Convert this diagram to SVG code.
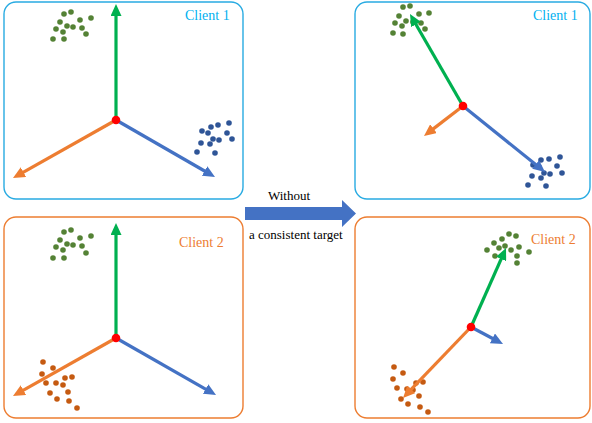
<svg xmlns="http://www.w3.org/2000/svg" width="592" height="423" viewBox="0 0 592 423">
<style>
.box1{fill:#fff;stroke:#29abe2;stroke-width:1.4}
.box2{fill:#fff;stroke:#ed7d31;stroke-width:1.4}
.c1{fill:#00b0f0}
.c2{fill:#ed7d31}
.g circle{fill:#548235}
.b circle{fill:#2f5597}
.o circle{fill:#c55a11}
.ag{stroke:#00b050;stroke-width:3.2;fill:none;marker-end:url(#mg)}
.ao{stroke:#ed7d31;stroke-width:3.2;fill:none;marker-end:url(#mo)}
.ab{stroke:#4472c4;stroke-width:3.2;fill:none;marker-end:url(#mb)}
.ctr{fill:#ff0000}
</style>
<defs>
<marker id="mg" markerUnits="userSpaceOnUse" markerWidth="12" markerHeight="11" refX="4" refY="5.5" orient="auto"><path d="M0,0 L12,5.5 L0,11 z" fill="#00b050"/></marker>
<marker id="mo" markerUnits="userSpaceOnUse" markerWidth="12" markerHeight="11" refX="4" refY="5.5" orient="auto"><path d="M0,0 L12,5.5 L0,11 z" fill="#ed7d31"/></marker>
<marker id="mb" markerUnits="userSpaceOnUse" markerWidth="12" markerHeight="11" refX="4" refY="5.5" orient="auto"><path d="M0,0 L12,5.5 L0,11 z" fill="#4472c4"/></marker>
</defs>

<g id="panel-client1-before">
<rect class="box1" x="4" y="2" width="239" height="197" rx="12"/>
<text class="c1" x="185" y="20" font-family="Liberation Serif, DejaVu Serif, serif" font-size="14">Client 1</text>
<g class="g">
<circle cx="64" cy="14" r="2.8"/><circle cx="71" cy="12" r="2.8"/><circle cx="60" cy="22" r="2.8"/><circle cx="80" cy="20" r="2.8"/><circle cx="91" cy="18" r="2.8"/><circle cx="56" cy="29" r="2.8"/><circle cx="67" cy="26" r="2.8"/><circle cx="73" cy="27" r="2.8"/><circle cx="82" cy="28" r="2.8"/><circle cx="63" cy="32" r="2.8"/><circle cx="86" cy="34" r="2.8"/><circle cx="53" cy="39" r="2.8"/><circle cx="64" cy="39" r="2.8"/>
</g>
<g class="b">
<circle cx="211" cy="127" r="2.8"/><circle cx="218" cy="125" r="2.8"/><circle cx="229" cy="123" r="2.8"/><circle cx="202" cy="131" r="2.8"/><circle cx="208" cy="133" r="2.8"/><circle cx="227" cy="133" r="2.8"/><circle cx="213" cy="139" r="2.8"/><circle cx="219" cy="140" r="2.8"/><circle cx="232" cy="139" r="2.8"/><circle cx="201" cy="143" r="2.8"/><circle cx="210" cy="144" r="2.8"/><circle cx="197" cy="152" r="2.8"/><circle cx="215" cy="153" r="2.8"/>
</g>
</g>

<g id="panel-client1-after">
<rect class="box1" x="355" y="2" width="235" height="197" rx="12"/>
<text class="c1" x="533" y="20" font-family="Liberation Serif, DejaVu Serif, serif" font-size="14">Client 1</text>
<g class="g">
<circle cx="403" cy="7" r="2.8"/><circle cx="410" cy="6" r="2.8"/><circle cx="399" cy="16" r="2.8"/><circle cx="419" cy="14" r="2.8"/><circle cx="429" cy="13" r="2.8"/><circle cx="395" cy="23" r="2.8"/><circle cx="406" cy="21" r="2.8"/><circle cx="413" cy="22" r="2.8"/><circle cx="421" cy="23" r="2.8"/><circle cx="402" cy="26" r="2.8"/><circle cx="425" cy="29" r="2.8"/><circle cx="393" cy="33" r="2.8"/><circle cx="403" cy="34" r="2.8"/>
</g>
<g class="b">
<circle cx="541" cy="160" r="2.8"/><circle cx="549" cy="159" r="2.8"/><circle cx="560" cy="157" r="2.8"/><circle cx="533" cy="165" r="2.8"/><circle cx="539" cy="167" r="2.8"/><circle cx="557" cy="166" r="2.8"/><circle cx="544" cy="173" r="2.8"/><circle cx="550" cy="174" r="2.8"/><circle cx="562" cy="173" r="2.8"/><circle cx="532" cy="176" r="2.8"/><circle cx="541" cy="178" r="2.8"/><circle cx="528" cy="185" r="2.8"/><circle cx="546" cy="186" r="2.8"/>
</g>
</g>

<g id="panel-client2-before">
<rect class="box2" x="4" y="217" width="239" height="201" rx="12"/>
<text class="c2" x="179" y="247" font-family="Liberation Serif, DejaVu Serif, serif" font-size="14">Client 2</text>
<g class="g">
<circle cx="64" cy="232" r="2.8"/><circle cx="71" cy="230" r="2.8"/><circle cx="60" cy="240" r="2.8"/><circle cx="80" cy="238" r="2.8"/><circle cx="91" cy="236" r="2.8"/><circle cx="56" cy="247" r="2.8"/><circle cx="67" cy="244" r="2.8"/><circle cx="73" cy="245" r="2.8"/><circle cx="82" cy="246" r="2.8"/><circle cx="63" cy="250" r="2.8"/><circle cx="86" cy="253" r="2.8"/><circle cx="53" cy="258" r="2.8"/><circle cx="64" cy="258" r="2.8"/>
</g>
<g class="o">
<circle cx="43" cy="362" r="2.8"/><circle cx="53" cy="368" r="2.8"/><circle cx="42" cy="374" r="2.8"/><circle cx="65" cy="378" r="2.8"/><circle cx="72" cy="377" r="2.8"/><circle cx="46" cy="383" r="2.8"/><circle cx="56" cy="383" r="2.8"/><circle cx="63" cy="385" r="2.8"/><circle cx="68" cy="392" r="2.8"/><circle cx="50" cy="393" r="2.8"/><circle cx="57" cy="399" r="2.8"/><circle cx="69" cy="401" r="2.8"/><circle cx="77" cy="408" r="2.8"/>
</g>
</g>

<g id="panel-client2-after">
<rect class="box2" x="355" y="217" width="235" height="201" rx="12"/>
<text class="c2" x="531" y="244" font-family="Liberation Serif, DejaVu Serif, serif" font-size="14">Client 2</text>
<g class="g">
<circle cx="509" cy="234" r="2.8"/><circle cx="516" cy="236" r="2.8"/><circle cx="494" cy="243" r="2.8"/><circle cx="502" cy="239" r="2.8"/><circle cx="505" cy="246" r="2.8"/><circle cx="499" cy="248" r="2.8"/><circle cx="511" cy="250" r="2.8"/><circle cx="519" cy="247" r="2.8"/><circle cx="487" cy="250" r="2.8"/><circle cx="529" cy="252" r="2.8"/><circle cx="495" cy="256" r="2.8"/><circle cx="517" cy="256" r="2.8"/><circle cx="517" cy="263" r="2.8"/>
</g>
<g class="o">
<circle cx="394" cy="367" r="2.8"/><circle cx="403" cy="373" r="2.8"/><circle cx="393" cy="379" r="2.8"/><circle cx="416" cy="383" r="2.8"/><circle cx="423" cy="382" r="2.8"/><circle cx="397" cy="388" r="2.8"/><circle cx="407" cy="389" r="2.8"/><circle cx="413" cy="390" r="2.8"/><circle cx="419" cy="396" r="2.8"/><circle cx="401" cy="399" r="2.8"/><circle cx="408" cy="404" r="2.8"/><circle cx="420" cy="407" r="2.8"/><circle cx="428" cy="412" r="2.8"/>
</g>
</g>

<g id="connectors">
<line class="ag" x1="116" y1="120" x2="116" y2="12"/>
<line class="ao" x1="116" y1="120" x2="19.97" y2="174.07"/>
<line class="ab" x1="116" y1="120" x2="208.07" y2="173.01"/>
<line class="ag" x1="463" y1="106" x2="413.99" y2="20.93"/>
<line class="ao" x1="463" y1="106" x2="430.34" y2="131.12"/>
<line class="ab" x1="463" y1="106" x2="538.77" y2="166.99"/>
<line class="ag" x1="116" y1="338" x2="116" y2="231"/>
<line class="ao" x1="116" y1="338" x2="19.97" y2="392.07"/>
<line class="ab" x1="116" y1="338" x2="209.05" y2="391.04"/>
<line class="ag" x1="471" y1="327" x2="502.76" y2="255.31"/>
<line class="ao" x1="471" y1="327" x2="408.53" y2="392.22"/>
<line class="ab" x1="471" y1="327" x2="495.93" y2="340.24"/>
<polygon points="245,207 342,207 342,200 356,213.5 342,227 342,220 245,220" fill="#4472c4"/>
</g>

<g id="origins">
<circle class="ctr" cx="116" cy="120" r="4.3"/>
<circle class="ctr" cx="463" cy="106" r="4.3"/>
<circle class="ctr" cx="116" cy="338" r="4.3"/>
<circle class="ctr" cx="471" cy="327" r="4.3"/>
</g>

<g id="caption">
<text x="268" y="200" font-family="Liberation Serif, DejaVu Serif, serif" font-size="13" fill="#000">Without</text>
<text x="249" y="239" font-family="Liberation Serif, DejaVu Serif, serif" font-size="13" fill="#000">a consistent target</text>
</g>
</svg>
